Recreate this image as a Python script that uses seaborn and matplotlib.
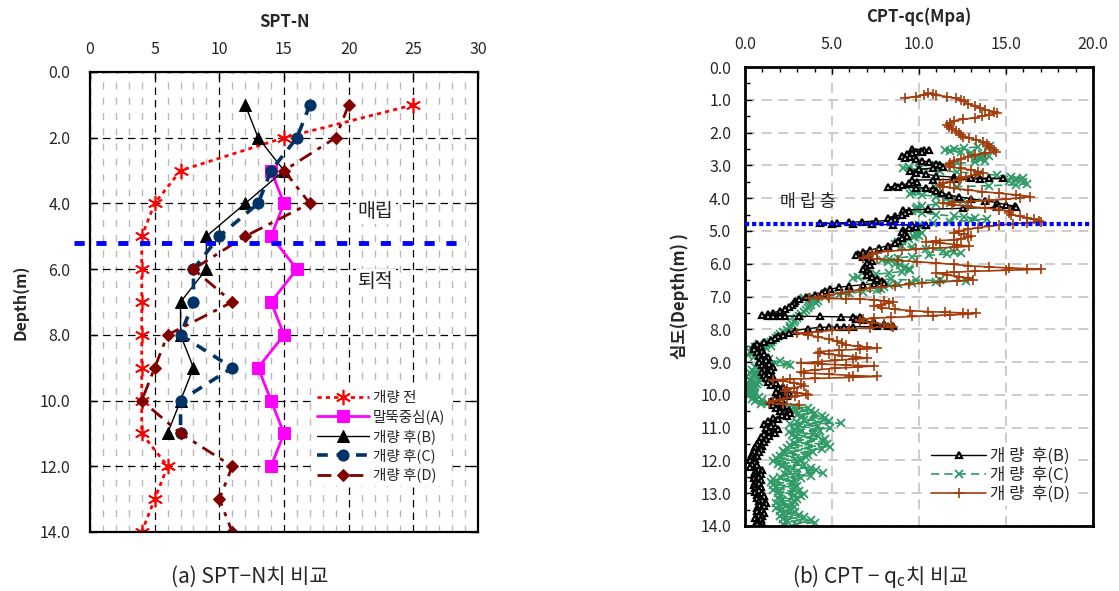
import matplotlib
matplotlib.use("Agg")
import matplotlib.pyplot as plt
import seaborn as sns
import pandas as pd
from matplotlib.ticker import MultipleLocator, FormatStrFormatter

sns.set_theme(style="white")
plt.rcParams["font.family"] = ["Noto Sans CJK KR", "DejaVu Sans"]
plt.rcParams["axes.unicode_minus"] = False

# ---------------- (a) SPT-N data ----------------
spt_depth_full = [1, 2, 3, 4, 5, 6, 7, 8, 9, 10, 11, 12, 13, 14]
spt_before = [25, 15, 7, 5, 4, 4, 4, 4, 4, 4, 4, 6, 5, 4]
spt_depth_a = [3, 4, 5, 6, 7, 8, 9, 10, 11, 12]
spt_a = [14, 15, 14, 16, 14, 15, 13, 14, 15, 14]
spt_depth_bc = [1, 2, 3, 4, 5, 6, 7, 8, 9, 10, 11]
spt_b = [12, 13, 15, 12, 9, 9, 7, 7, 8, 7, 6]
spt_c = [17, 16, 14, 13, 10, 8, 8, 7, 11, 7, 7]
spt_d = [20, 19, 15, 17, 12, 8, 11, 6, 5, 4, 7, 11, 10, 11]
spt_labels = ["개량 전", "말뚝중심(A)", "개량 후(B)", "개량 후(C)", "개량 후(D)"]
fill_boundary_a = 5.2

# ---------------- (b) CPT-qc data (depth m, qc MPa) ----------------
cpt_b = [(2.50,9.6),(2.52,10.3),(2.53,10.6),(2.56,10.1),(2.58,9.8),(2.60,10.2),(2.63,9.6),(2.66,9.3),(2.70,9.0),(2.74,9.5),(2.78,9.2),(2.82,9.8),(2.86,10.2),(2.90,10.6),(2.95,11.0),(3.00,11.2),(3.04,11.4),(3.08,10.8),(3.12,10.0),(3.17,9.5),(3.22,9.8),(3.27,10.4),(3.32,11.0),(3.36,12.0),(3.38,13.0),(3.39,14.0),(3.40,14.8),(3.42,13.5),(3.43,12.0),(3.44,10.8),(3.45,9.6),(3.50,9.9),(3.55,9.4),(3.60,9.0),(3.64,8.6),(3.66,8.2),(3.67,8.8),(3.68,9.8),(3.69,10.4),(3.72,10.8),(3.78,11.0),(3.84,11.3),(3.90,11.7),(3.96,12.3),(4.02,13.0),(4.08,13.8),(4.14,14.5),(4.20,15.0),(4.24,15.5),(4.26,15.6),(4.28,14.5),(4.31,12.5),(4.34,10.5),(4.36,9.1),(4.40,9.4),(4.45,9.2),(4.50,9.0),(4.55,8.6),(4.60,8.2),(4.64,8.6),(4.68,8.4),(4.70,7.5),(4.72,6.7),(4.74,6.0),(4.76,5.3),(4.77,4.3),(4.78,5.0),(4.79,6.2),(4.80,7.3),(4.81,8.5),(4.82,9.6),(4.83,10.4),(4.87,9.8),(4.92,9.4),(4.98,9.1),(5.04,9.0),(5.10,9.2),(5.16,9.3),(5.22,9.0),(5.30,8.8),(5.38,8.6),(5.45,8.2),(5.52,7.7),(5.58,7.2),(5.64,6.8),(5.70,6.5),(5.74,6.4),(5.80,6.8),(5.86,7.2),(5.92,7.3),(5.98,7.0),(6.04,7.2),(6.10,6.9),(6.16,6.8),(6.22,7.0),(6.28,7.2),(6.34,7.0),(6.40,7.3),(6.46,7.6),(6.52,7.9),(6.58,8.0),(6.61,7.4),(6.64,6.8),(6.68,6.0),(6.72,5.4),(6.78,4.9),(6.84,4.6),(6.90,4.4),(6.96,4.0),(7.02,3.5),(7.08,3.1),(7.14,2.9),(7.20,2.8),(7.26,2.7),(7.32,2.5),(7.38,2.3),(7.44,2.0),(7.50,1.6),(7.54,1.3),(7.57,1.0),(7.58,1.3),(7.585,1.6),(7.59,2.0),(7.595,2.3),(7.60,3.1),(7.61,4.3),(7.62,5.5),(7.63,6.2),(7.64,6.6),(7.68,6.4),(7.73,6.8),(7.79,7.4),(7.85,8.0),(7.90,8.5),(7.91,8.2),(7.915,7.6),(7.92,6.2),(7.925,5.7),(7.93,5.3),(7.935,4.8),(7.94,4.3),(7.98,3.6),(8.04,2.9),(8.10,2.5),(8.16,2.2),(8.22,1.9),(8.28,1.7),(8.34,1.5),(8.40,1.1),(8.46,0.7),
(8.50,0.5),(8.55,0.9),(8.60,0.5),(8.65,1.0),(8.70,0.7),(8.75,1.1),(8.80,0.8),(8.85,1.3),(8.90,0.9),(8.95,1.2),(9.00,0.8),(9.05,1.4),(9.10,1.0),(9.15,1.6),(9.20,1.1),(9.25,1.5),(9.30,1.0),(9.35,1.4),(9.40,1.1),(9.45,1.6),(9.50,1.2),(9.55,1.5),(9.60,1.3),(9.65,1.8),(9.70,1.5),(9.75,2.2),(9.80,1.9),(9.85,2.4),(9.90,1.8),(9.95,2.5),(10.00,2.0),(10.05,2.4),(10.10,1.7),(10.15,2.1),(10.20,1.5),(10.25,1.9),(10.30,1.6),(10.35,2.2),(10.40,1.8),(10.45,2.5),(10.50,2.0),(10.55,2.6),(10.60,2.1),(10.65,2.4),(10.70,1.6),(10.75,1.9),(10.80,1.3),(10.85,1.6),(10.90,1.1),(10.95,1.5),(11.00,1.2),(11.05,1.9),(11.10,1.4),(11.15,1.7),(11.20,1.1),(11.25,1.4),(11.30,0.9),(11.35,1.2),(11.40,0.8),(11.45,1.1),(11.50,0.7),(11.55,1.0),(11.60,0.6),(11.65,0.9),(11.70,0.5),(11.75,0.8),(11.80,0.4),(11.85,0.7),(11.90,0.35),(11.95,0.6),(12.00,0.3),(12.05,0.6),(12.10,0.4),(12.15,0.7),(12.20,0.3),(12.25,0.8),(12.30,1.0),(12.35,0.6),(12.40,0.9),(12.45,0.5),(12.50,0.8),(12.55,0.5),(12.60,0.9),(12.65,0.6),(12.70,0.8),(12.75,0.5),(12.80,0.9),(12.85,0.6),(12.90,0.8),(12.95,0.6),(13.00,1.0),(13.05,0.7),(13.10,1.1),(13.15,0.7),(13.20,1.0),(13.25,0.8),(13.30,1.2),(13.35,0.8),(13.40,1.1),(13.45,0.7),(13.50,1.0),(13.55,0.7),(13.60,1.1),(13.65,0.8),(13.70,1.0),(13.75,0.6),(13.80,0.9),(13.85,0.7),(13.90,1.0),(13.95,0.7),(14.00,0.9)]

cpt_c = [(2.41,14.1),(2.44,13.4),(2.47,12.6),(2.50,12.0),(2.53,11.5),(2.56,11.8),(2.59,12.4),(2.62,13.0),(2.66,13.6),(2.70,14.0),(2.74,13.6),(2.78,13.2),(2.82,13.5),(2.86,13.8),(2.90,13.2),(2.94,12.2),(2.98,11.0),(3.02,10.0),(3.06,9.4),(3.09,9.1),(3.12,10.0),(3.16,11.2),(3.20,12.2),(3.25,13.4),(3.30,14.5),(3.35,15.3),(3.39,16.0),(3.43,15.6),(3.47,15.2),(3.52,16.0),(3.56,16.2),(3.59,15.6),(3.62,14.0),(3.65,12.2),(3.68,11.0),(3.72,10.2),(3.77,9.8),(3.82,9.6),(3.86,9.5),(3.90,10.2),(3.95,11.0),(4.00,11.6),(4.05,12.2),(4.10,12.5),(4.14,11.8),(4.18,11.0),(4.23,10.2),(4.28,9.9),(4.34,9.8),(4.40,9.6),(4.45,10.2),(4.50,11.0),(4.55,12.0),(4.58,12.6),(4.62,13.2),(4.65,13.9),(4.68,13.0),(4.72,11.8),(4.76,10.8),(4.81,10.0),(4.86,9.7),(4.90,9.5),(4.95,9.7),(5.00,9.9),(5.05,10.2),(5.10,9.8),(5.15,10.0),(5.20,9.7),(5.25,9.4),(5.30,9.0),(5.35,8.8),(5.40,8.6),(5.45,9.0),(5.50,9.6),(5.55,10.4),(5.60,11.4),(5.64,12.0),(5.68,12.4),(5.71,11.6),(5.74,10.6),(5.78,9.6),(5.82,8.8),(5.86,8.3),(5.90,7.9),(5.95,8.2),(6.00,8.6),(6.05,8.9),(6.10,9.2),(6.15,9.4),(6.20,9.5),(6.24,9.0),(6.28,8.3),(6.32,7.5),(6.36,7.0),(6.40,6.5),(6.44,6.2),(6.46,7.2),(6.48,8.4),(6.50,9.8),(6.51,11.2),(6.52,12.7),(6.55,11.0),(6.58,9.6),(6.62,8.8),(6.66,8.3),(6.71,8.0),(6.76,7.8),(6.80,7.6),(6.85,6.8),(6.90,6.0),(6.95,5.4),(7.00,4.6),(7.03,3.9),(7.05,3.4),(7.10,3.9),(7.15,4.2),(7.20,4.1),(7.25,3.8),(7.30,3.7),(7.36,3.6),(7.42,3.5),(7.48,3.4),(7.54,3.2),(7.60,3.1),(7.66,3.0),(7.72,2.9),(7.78,2.8),(7.84,2.7),(7.90,2.6),(7.96,2.6),(8.02,2.4),(8.08,2.2),(8.14,2.0),(8.20,1.9),(8.26,1.8),(8.32,1.6),(8.38,1.5),
(8.42,1.4),(8.46,0.8),(8.50,1.5),(8.54,0.6),(8.58,1.2),(8.62,0.4),(8.66,1.0),(8.70,0.3),(8.74,0.9),(8.78,0.2),(8.82,1.0),(8.86,0.5),(8.90,1.4),(8.94,0.8),(8.98,2.0),(9.02,1.2),(9.06,2.4),(9.09,2.6),(9.12,1.5),(9.16,0.6),(9.20,1.2),(9.24,0.4),(9.28,1.0),(9.32,0.3),(9.36,1.1),(9.40,0.5),(9.44,1.3),(9.48,0.4),(9.52,0.9),(9.56,0.3),(9.60,0.8),(9.64,0.2),(9.68,0.7),(9.72,0.2),(9.76,0.6),(9.80,0.15),(9.84,0.5),(9.88,0.2),(9.92,0.6),(9.96,0.15),(10.00,0.5),(10.04,0.2),(10.08,0.8),(10.12,0.4),(10.16,1.0),(10.20,0.6),(10.24,1.3),(10.28,0.9),(10.32,2.0),(10.36,2.8),(10.40,3.6),(10.44,2.9),(10.48,3.8),(10.52,2.8),(10.56,4.0),(10.60,3.0),(10.64,4.4),(10.68,3.2),(10.72,4.6),(10.76,3.4),(10.80,4.8),(10.84,3.0),(10.86,5.5),(10.90,2.6),(10.94,4.2),(10.98,3.0),(11.02,4.9),(11.06,2.8),(11.10,4.3),(11.14,2.5),(11.18,3.9),(11.22,2.7),(11.26,4.2),(11.30,2.9),(11.34,4.6),(11.38,3.1),(11.42,4.5),(11.46,2.8),(11.50,4.7),(11.54,2.6),(11.58,4.9),(11.62,2.4),(11.66,4.4),(11.70,2.2),(11.74,3.9),(11.78,2.3),(11.82,3.6),(11.86,2.0),(11.90,3.5),(11.94,1.8),(11.98,3.2),(12.02,1.6),(12.06,3.0),(12.10,1.9),(12.14,3.4),(12.18,2.1),(12.22,3.8),(12.26,2.4),(12.30,4.1),(12.34,2.6),(12.38,4.5),(12.42,2.3),(12.46,3.8),(12.50,2.0),(12.54,3.2),(12.58,1.6),(12.62,2.9),(12.66,1.5),(12.70,2.7),(12.74,1.6),(12.78,3.0),(12.82,1.8),(12.86,2.8),(12.90,1.6),(12.94,3.1),(12.98,1.9),(13.02,3.4),(13.06,2.0),(13.10,3.2),(13.14,1.9),(13.18,3.0),(13.22,2.1),(13.26,2.9),(13.30,1.8),(13.34,2.7),(13.38,2.0),(13.42,2.8),(13.46,1.8),(13.50,2.6),(13.54,2.0),(13.58,2.9),(13.62,2.2),(13.66,3.1),(13.70,2.0),(13.74,3.4),(13.78,2.2),(13.82,3.8),(13.86,2.4),(13.90,4.0),(13.94,2.2),(13.98,3.0)]

cpt_d = [(0.94,9.2),(0.90,9.8),(0.85,10.3),(0.80,10.5),(0.83,10.8),(0.86,11.0),(0.90,11.6),(0.95,12.1),(1.00,12.4),(1.05,12.6),(1.12,12.8),(1.18,13.2),(1.24,13.5),(1.30,13.8),(1.36,14.3),(1.41,14.5),(1.45,14.0),(1.50,13.6),(1.55,13.2),(1.60,12.5),(1.64,12.0),(1.70,11.8),(1.76,11.6),(1.82,11.7),(1.88,11.9),(1.94,12.1),(2.00,12.3),(2.06,12.4),(2.12,12.5),(2.17,12.9),(2.22,13.3),(2.28,13.7),(2.34,13.9),(2.40,14.0),(2.46,14.1),(2.52,14.3),(2.58,14.4),(2.63,13.8),(2.68,13.2),(2.74,12.8),(2.80,12.4),(2.86,12.0),(2.92,11.8),(2.98,11.7),(3.04,11.8),(3.09,12.4),(3.14,13.0),(3.19,13.4),(3.24,13.7),(3.29,13.2),(3.34,12.7),(3.40,12.4),(3.45,12.3),(3.50,11.8),(3.55,11.4),(3.60,11.2),(3.65,11.4),(3.70,12.0),(3.75,12.8),(3.80,13.6),(3.85,14.6),(3.90,15.6),(3.95,16.4),(3.99,15.8),(4.03,15.0),(4.07,14.0),(4.10,13.0),(4.13,12.0),(4.16,11.4),(4.20,11.9),(4.25,12.8),(4.30,13.8),(4.35,14.6),(4.40,15.2),(4.45,15.2),(4.50,15.3),(4.55,15.8),(4.60,16.2),(4.65,16.6),(4.69,16.9),(4.72,17.0),(4.75,16.2),(4.78,15.4),(4.82,14.6),(4.86,14.0),(4.90,13.4),(4.95,12.8),(5.00,12.3),(5.05,12.0),(5.10,12.6),(5.15,13.0),(5.20,12.8),(5.24,12.4),(5.27,12.0),(5.30,11.0),(5.33,10.4),(5.37,11.2),(5.42,12.2),(5.47,12.9),(5.50,12.0),(5.53,10.8),(5.56,9.8),(5.59,9.0),(5.62,8.2),(5.66,7.6),(5.70,7.3),(5.76,7.1),(5.82,6.8),(5.86,7.6),(5.90,8.8),(5.94,9.9),(5.98,11.0),(6.02,12.0),(6.06,12.8),(6.10,14.0),(6.13,15.2),(6.15,16.2),(6.17,17.0),(6.20,15.0),(6.23,13.2),(6.26,12.0),(6.29,11.0),(6.34,11.6),(6.39,12.3),(6.44,12.8),(6.49,13.1),(6.52,12.2),(6.55,11.2),(6.59,10.2),(6.63,9.4),(6.67,8.6),(6.71,7.8),(6.75,7.2),(6.80,6.6),(6.85,6.0),(6.90,5.5),(6.95,4.8),(7.00,4.2),(7.05,3.7),(7.06,4.8),(7.07,5.8),(7.08,6.6),(7.10,7.4),(7.13,8.0),(7.16,8.5),(7.20,8.3),(7.25,7.8),(7.29,7.4),(7.34,7.9),(7.39,8.6),(7.43,9.5),(7.46,10.5),(7.48,11.5),(7.50,12.5),(7.51,13.3),(7.54,12.8),(7.56,11.8),(7.58,10.8),(7.61,9.6),(7.64,8.4),(7.66,7.4),(7.70,6.8),(7.75,6.6),(7.80,7.3),(7.85,8.0),(7.90,8.4),(7.92,8.5),(7.95,7.2),(7.99,6.0),(8.03,5.0),(8.07,4.2),(8.10,3.6),(8.12,3.0),(8.17,3.6),(8.23,4.2),(8.30,4.8),(8.37,5.3),(8.43,5.6),(8.48,5.8),(8.52,6.5),(8.55,7.0),(8.58,7.6),(8.61,6.6),(8.64,5.4),(8.68,4.3),(8.72,4.2),(8.76,4.8),(8.80,5.6),(8.84,6.4),(8.88,7.0),(8.91,6.2),(8.95,5.2),(8.99,4.2),(9.03,3.2),(9.06,4.4),(9.09,5.8),(9.12,7.4),(9.15,6.5),(9.19,5.2),(9.24,4.0),(9.29,3.2),(9.33,3.4),(9.37,4.8),(9.41,6.2),(9.44,7.6),(9.47,6.0),(9.50,4.0),(9.52,2.6),(9.54,1.6),(9.58,2.2),(9.63,2.8),(9.68,3.2),(9.73,3.4),(9.78,2.8),(9.83,2.4),(9.88,2.3),(9.93,3.0),(9.97,3.5),(10.00,3.6),(10.05,2.9),(10.10,2.4),(10.15,2.0),(10.20,1.6),(10.25,1.4),(10.28,2.2),(10.30,3.1)]
cpt_labels = ["개 량  후(B)", "개 량  후(C)", "개 량  후(D)"]
fill_boundary_b = 4.8

# ---------------- figure ----------------
fig = plt.figure(figsize=(11.19, 5.91), dpi=100)
ax1 = fig.add_axes([90/1119, 59/591, 388/1119, 460/591])
ax2 = fig.add_axes([745/1119, 65/591, 348/1119, 459/591])


def spt_line(ax, x, y, **kw):
    sns.lineplot(x=x, y=y, sort=False, estimator=None, ax=ax, **kw)
    return ax.lines[-1]

h_before = spt_line(ax1, spt_before, spt_depth_full, color="#ff0000", lw=2,
                    linestyle=(0, (1.5, 1.5)), marker=(6, 2, 0), markersize=11,
                    markeredgecolor="#ff0000", markeredgewidth=1.2)
h_a = spt_line(ax1, spt_a, spt_depth_a, color="#ff00ff", lw=2, marker="s",
               markersize=9, markerfacecolor="#ff00ff", markeredgecolor="#ff00ff")
h_b = spt_line(ax1, spt_b, spt_depth_bc, color="black", lw=1, marker="^",
               markersize=8, markerfacecolor="black", markeredgecolor="black")
h_c = spt_line(ax1, spt_c, spt_depth_bc, color="#003366", lw=2.6,
               linestyle=(0, (3, 2.4)), marker="o", markersize=8,
               markerfacecolor="#003366", markeredgecolor="#003366")
h_d = spt_line(ax1, spt_d, spt_depth_full, color="#800000", lw=2,
               linestyle=(0, (5, 2.5, 1.5, 2.5)), marker="D", markersize=6.5,
               markerfacecolor="#800000", markeredgecolor="#800000")

ax1.axhline(fill_boundary_a, xmin=-0.04, xmax=0.975, color="#0000ff", lw=3.5,
            linestyle=(0, (2.1, 2.4)), clip_on=False, zorder=5)

ax1.set_xlim(0, 30)
ax1.set_ylim(14, 0)
ax1.xaxis.set_major_locator(MultipleLocator(5))
ax1.xaxis.set_minor_locator(MultipleLocator(1))
ax1.yaxis.set_major_locator(MultipleLocator(2))
ax1.yaxis.set_major_formatter(FormatStrFormatter("%.1f"))
ax1.xaxis.tick_top()
ax1.xaxis.set_label_position("top")
ax1.tick_params(axis="both", which="major", direction="in", length=5, width=1,
                labelsize=11.5, top=True, bottom=False, left=True, right=True,
                color="black")
ax1.tick_params(axis="x", which="major", pad=10)
ax1.tick_params(axis="y", which="major", pad=14)
ax1.tick_params(which="minor", length=0)
ax1.grid(which="major", axis="both", color="black", lw=0.9, linestyle=(0, (6, 4)))
ax1.grid(which="minor", axis="x", color="#b8b8b8", lw=1.0, linestyle=(0, (5, 6)))
ax1.set_axisbelow(True)
ax1.set_xlabel("SPT-N", fontsize=12, fontweight="bold", labelpad=10)
ax1.set_ylabel("Depth(m)", fontsize=11.5, fontweight="bold", labelpad=8)
for s in ax1.spines.values():
    s.set_linewidth(1.6)
    s.set_color("black")

box = dict(facecolor="white", edgecolor="none", pad=1.5)
ax1.text(20.7, 4.25, "매립", fontsize=14, color="#222222", ha="left", va="center", bbox=box)
ax1.text(20.7, 6.37, "퇴적", fontsize=14, color="#222222", ha="left", va="center", bbox=box)

leg1 = ax1.legend([h_before, h_a, h_b, h_c, h_d], spt_labels, loc="upper left",
                  bbox_to_anchor=(0.575, 0.315), fontsize=10.5, frameon=True,
                  facecolor="white", edgecolor="none", framealpha=1, fancybox=False,
                  handlelength=3.6, handletextpad=0.25, labelspacing=0.32,
                  borderpad=0.25, borderaxespad=0)
leg1.set_zorder(10)

# ---- right panel ----
def cpt_frame(pairs):
    return pd.DataFrame({"depth": [p[0] for p in pairs], "qc": [p[1] for p in pairs]})

df_b, df_c, df_d = cpt_frame(cpt_b), cpt_frame(cpt_c), cpt_frame(cpt_d)
col_c = "#2f9a66"
col_d = "#a33c0b"

sns.lineplot(data=df_c, x="qc", y="depth", sort=False, estimator=None, ax=ax2,
             color=col_c, lw=1.2, linestyle=(0, (5, 3)), marker="x", markersize=5.5,
             markeredgecolor=col_c, markeredgewidth=1.3)
l_c = ax2.lines[-1]
sns.lineplot(data=df_b, x="qc", y="depth", sort=False, estimator=None, ax=ax2,
             color="black", lw=1.0, marker="^", markersize=5,
             markerfacecolor="white", markeredgecolor="black", markeredgewidth=1.6)
l_b = ax2.lines[-1]
sns.lineplot(data=df_d, x="qc", y="depth", sort=False, estimator=None, ax=ax2,
             color=col_d, lw=1.2, marker="+", markersize=7,
             markeredgecolor=col_d, markeredgewidth=1.2)
l_d = ax2.lines[-1]

ax2.axhline(fill_boundary_b, color="#0000ff", lw=3, linestyle=(0, (1, 0.7)), zorder=6)

ax2.set_xlim(0, 20)
ax2.set_ylim(14, 0)
ax2.xaxis.set_major_locator(MultipleLocator(5))
ax2.xaxis.set_minor_locator(MultipleLocator(1))
ax2.xaxis.set_major_formatter(FormatStrFormatter("%.1f"))
ax2.yaxis.set_major_locator(MultipleLocator(1))
ax2.yaxis.set_minor_locator(MultipleLocator(0.5))
ax2.yaxis.set_major_formatter(FormatStrFormatter("%.1f"))
ax2.xaxis.tick_top()
ax2.xaxis.set_label_position("top")
ax2.tick_params(axis="both", which="both", direction="in", color="black",
                top=True, bottom=False, left=True, right=False)
ax2.tick_params(which="major", length=5, width=1, labelsize=11.5)
ax2.tick_params(which="minor", length=3.5, width=1)
ax2.tick_params(axis="x", which="major", pad=10)
ax2.tick_params(axis="y", which="major", pad=10)
ax2.grid(which="major", axis="both", color="#c4c4c4", lw=1.2, linestyle=(0, (6, 4)))
ax2.set_axisbelow(True)
ax2.set_xlabel("CPT-qc(Mpa)", fontsize=12, fontweight="bold", labelpad=10)
ax2.set_ylabel("심도(Depth(m) )", fontsize=12, fontweight="bold", labelpad=8)
for s in ax2.spines.values():
    s.set_linewidth(2)
    s.set_color("black")

ax2.text(2.0, 4.12, "매 립 층", fontsize=12.5, color="#222222", ha="left", va="center")

leg2 = ax2.legend([l_b, l_c, l_d], cpt_labels, loc="upper left",
                  bbox_to_anchor=(0.525, 0.178), fontsize=12, frameon=True,
                  facecolor="white", edgecolor="none", framealpha=1, fancybox=False,
                  handlelength=3.3, handletextpad=0.25, labelspacing=0.12,
                  borderpad=0.2, borderaxespad=0)
leg2.set_zorder(10)

fig.text(250/1119, 0.024, "(a) SPT−N치 비교", ha="center", va="center", fontsize=15)
fig.text(880/1119, 0.024, "(b) CPT − q$_{\\mathrm{c}}$치 비교", ha="center", va="center",
         fontsize=15)

fig.savefig("out.png", dpi=100)
